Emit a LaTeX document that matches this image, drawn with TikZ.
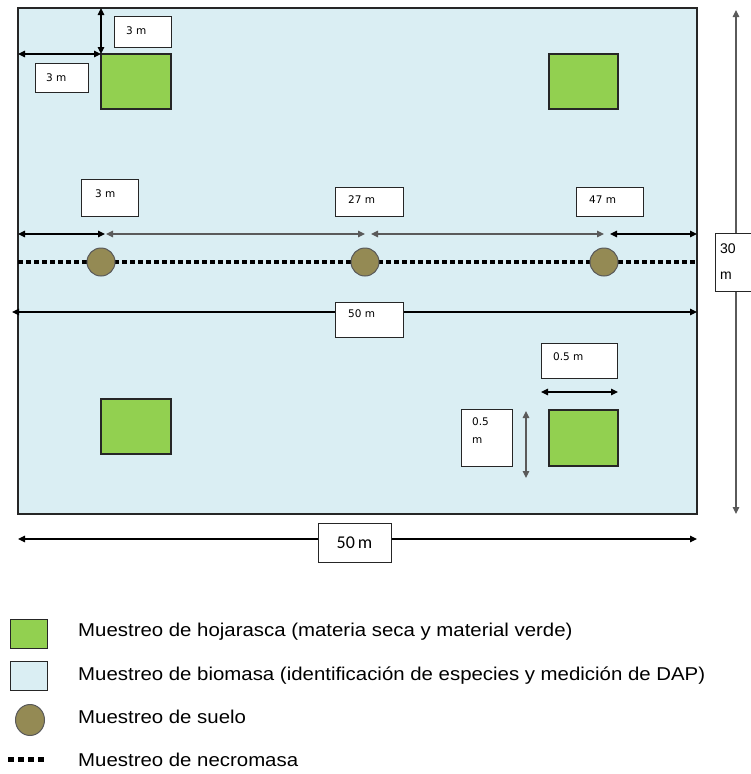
\documentclass[tikz,border=0pt]{standalone}
\usepackage{fontspec}
\setmainfont{Liberation Sans}
\newfontfamily\dejavu{DejaVu Sans}
\newfontfamily\carlito{Carlito}
\usetikzlibrary{arrows.meta,calc,shapes.geometric}
\definecolor{plotblue}{HTML}{DAEEF3}
\definecolor{leafgreen}{HTML}{92D050}
\definecolor{soilbrown}{HTML}{948A54}
\definecolor{dimgray}{HTML}{5A5A5A}
\newcommand{\legscale}[1]{\scalebox{1}[0.91]{#1}}
\begin{document}
\begin{tikzpicture}[x=1pt,y=-1pt,
  box/.style={draw=black!85, line width=1pt, fill=white, inner sep=0, outer sep=0, anchor=north west},
  sq/.style={draw=black!85, line width=1.4pt, fill=leafgreen, inner sep=0, outer sep=0, anchor=north west},
  dimarrow/.style={line width=1.2pt, {Triangle[length=7pt,width=6.5pt]}-{Triangle[length=7pt,width=6.5pt]}},
  smalltxt/.style={font=\dejavu\fontsize{10.5}{12}\selectfont, inner sep=0, anchor=west},
  soil/.style={circle, draw=black!65, line width=1pt, fill=soilbrown, minimum size=28pt, inner sep=0},
  legtxt/.style={font=\fontsize{20.4}{24}\selectfont, inner sep=0, anchor=west}
]
\useasboundingbox (0,0) rectangle (751,774);
% main plot
\node[box, fill=plotblue, line width=1.3pt, minimum width=679pt, minimum height=506pt] (plot) at (18,8) {};
% litter squares
\node[sq, minimum width=70pt, minimum height=55pt] (sqTL) at (101,54) {};
\node[sq, minimum width=69pt, minimum height=55pt] (sqTR) at (549,54) {};
\node[sq, minimum width=70pt, minimum height=55pt] (sqBL) at (101,399) {};
\node[sq, minimum width=69pt, minimum height=56pt] (sqBR) at (549,410) {};
% top-left 3 m offsets
\draw[dimarrow] (plot.north -| sqTL.north west) -- (sqTL.north west);
\draw[dimarrow] (plot.west |- sqTL.north west) -- (sqTL.north west);
\node[box, minimum width=57pt, minimum height=31pt] (bA) at (114,16) {};
\node[smalltxt] at (126,31) {3 m};
\node[box, minimum width=53pt, minimum height=29pt] (bB) at (35,63) {};
\node[smalltxt] at (46,78) {3 m};
% necromass line and soil points
\draw[line width=4.5pt, dash pattern=on 4.5pt off 3.5pt] (18,262) -- (697,262);
\node[soil] (s1) at (101,262) {};
\node[soil] (s2) at (365,262) {};
\node[soil] (s3) at (604,262) {};
% distances along transect
\coordinate (t0) at (18,234);
\coordinate (t1a) at (105,234);
\coordinate (t1b) at (106,234);
\coordinate (t2a) at (365,234);
\coordinate (t2b) at (371,234);
\coordinate (t3a) at (604,234);
\coordinate (t3b) at (610,234);
\coordinate (t4) at (697,234);
\draw[dimarrow] (t0) -- (t1a);
\draw[dimarrow, draw=dimgray] (t1b) -- (t2a);
\draw[dimarrow, draw=dimgray] (t2b) -- (t3a);
\draw[dimarrow] (t3b) -- (t4);
\node[box, minimum width=57pt, minimum height=37pt] (bC) at (81,179) {};
\node[smalltxt] at (95,194) {3 m};
\node[box, minimum width=68pt, minimum height=29pt] (bD) at (335,187) {};
\node[smalltxt] at (348,200) {27 m};
\node[box, minimum width=67pt, minimum height=29pt] (bE) at (576,187) {};
\node[smalltxt] at (589,200) {47 m};
% 50 m inside
\coordinate (m0) at (12,312);
\coordinate (m1) at (697,312);
\draw[dimarrow] (m0) -- (m1);
\node[box, minimum width=68pt, minimum height=35pt] (bF) at (335,302) {};
\node[smalltxt] at (348,314) {50 m};
% 0.5 m dims
\node[box, minimum width=76pt, minimum height=35pt] (bG) at (541,343) {};
\node[smalltxt] at (553,357) {0.5 m};
\coordinate (h0) at (541,392);
\coordinate (h1) at (618,392);
\draw[dimarrow] (h0) -- (h1);
\node[box, minimum width=51pt, minimum height=57pt] (bH) at (461,409) {};
\node[smalltxt, anchor=north west, align=left, font=\dejavu\fontsize{10.5}{18}\selectfont] at (472,418) {0.5\\m};
\coordinate (v0) at (526,411);
\coordinate (v1) at (526,478);
\draw[dimarrow, draw=dimgray] (v0) -- (v1);
% 30 m
\coordinate (w0) at (736,10);
\coordinate (w1) at (736,514);
\draw[dimarrow, draw=dimgray] (w0) -- (w1);
\node[box, minimum width=40pt, minimum height=58pt] (bI) at (715,233) {};
\node[anchor=north west, inner sep=0, align=left, font=\fontsize{14}{26}\selectfont] at (720,244) {30\\m};
% 50 m bottom
\coordinate (b0) at (18,539);
\coordinate (b1) at (697,539);
\draw[dimarrow] (b0) -- (b1);
\node[box, minimum width=73pt, minimum height=39pt] (bJ) at (318,523) {};
\node[inner sep=0, font=\carlito\fontsize{18}{20}\selectfont] at (bJ.center) {50\,m};
% legend
\node[sq, line width=1pt, minimum width=37pt, minimum height=29pt] (lg1) at (10,619) {};
\node[legtxt] at (78,632) {\legscale{Muestreo de hojarasca (materia seca y material verde)}};
\node[box, fill=plotblue, minimum width=37pt, minimum height=29pt] (lg2) at (10,661) {};
\node[legtxt] at (78,676) {\legscale{Muestreo de biomasa (identificación de especies y medición de DAP)}};
\node[ellipse, draw=black!65, line width=1pt, fill=soilbrown, minimum width=29pt, minimum height=31pt, inner sep=0] (lg3) at (30,720) {};
\node[legtxt] at (78,717) {\legscale{Muestreo de suelo}};
\coordinate (lg4a) at (8,759);
\coordinate (lg4b) at (45,759);
\draw[line width=5pt, dash pattern=on 6pt off 4pt] (lg4a) -- (lg4b);
\node[legtxt] at (78,760) {\legscale{Muestreo de necromasa}};
\end{tikzpicture}
\end{document}
